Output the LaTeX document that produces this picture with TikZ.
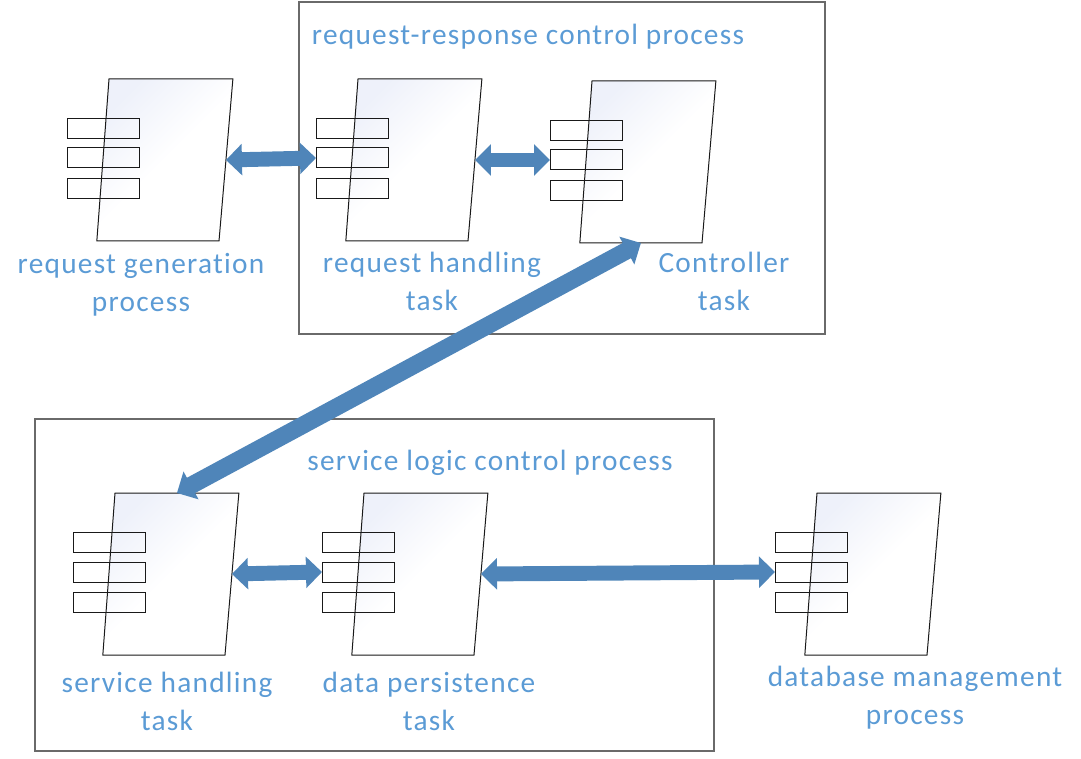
\documentclass[tikz,border=0pt]{standalone}
\usepackage{xcolor}
\usepackage{fontspec}
\setmainfont{Carlito}[Ligatures=NoCommon,LetterSpace=4.3]
\usetikzlibrary{arrows.meta,shapes.geometric}
\definecolor{labelblue}{HTML}{5B9BD5}
\definecolor{arrowblue}{HTML}{4F85B9}
\definecolor{gradblue}{HTML}{EEF1FA}
\definecolor{framegray}{HTML}{6A6A6A}

\begin{document}
\begin{tikzpicture}[
  x=0.75pt,
  y=-0.75pt,
  frame/.style={draw=framegray, line width=0.9pt},
  compbody/.style={trapezium, trapezium left angle=85.7, trapezium right angle=94.9,
    text width=82.5pt, text height=121.5pt, text depth=0pt, inner sep=0pt, outer sep=0pt, draw=black!90, line width=0.75pt,
    top color=gradblue, bottom color=white, middle color=white, shading angle=45},
  tabbox/.style={draw=black!90, line width=0.75pt, minimum width=54pt, minimum height=15pt, inner sep=0pt, outer sep=0pt},
  biarrow/.style={draw=arrowblue, line width=11.2pt, {Triangle[length=12pt,width=23pt]}-{Triangle[length=12pt,width=23pt]}},
  lab/.style={font=\fontsize{22}{28.5}\selectfont, text=labelblue, align=center, inner sep=0pt}
]
\useasboundingbox (0,0) rectangle (1081,759);

% Process and task frames.
\draw[frame] (299,2) rectangle (825,334);
\draw[frame] (35,419) rectangle (714,751);

% Components: body first, then the three tabs on top of it.
\foreach \nm/\xx/\yy in {gen/0/0,req/249/0,ctl/483/2,svc/6/414,dat/255/414,dbm/708/414} {
  \node[compbody] (\nm) at (164+\xx,160+\yy) {};
  \node[tabbox] (\nm1) at (103+\xx,128.5+\yy) {};
  \node[tabbox] (\nm2) at (103+\xx,158+\yy) {};
  \node[tabbox] (\nm3) at (103+\xx,188.5+\yy) {};
}

% Labels.
\node[lab] (reqctl) at (528,37) {request-response control process};
\node[lab] (svcctl) at (490,463) {service logic control process};
\node[lab] (genlab) at (141,285) {request generation\\process};
\node[lab] (reqlab) at (432,281) {request handling\\task};
\node[lab] (ctllab) at (724,281) {Controller\\task};
\node[lab] (svclab) at (167,701.5) {service handling\\task};
\node[lab] (datlab) at (429,701.5) {data persistence\\task};
\node[lab] (dbmlab) at (915,698) {database management\\process};

% Connectors.
\draw[biarrow] (gen.right side) -- (req2.west);
\draw[biarrow] (req.right side) -- (ctl2.west);
\draw[biarrow, line width=13pt] (ctl.bottom side) -- (svc.top side);
\draw[biarrow] (svc.right side) -- (dat2.west);
\draw[biarrow] (dat.right side) -- (dbm2.west);
\end{tikzpicture}
\end{document}
